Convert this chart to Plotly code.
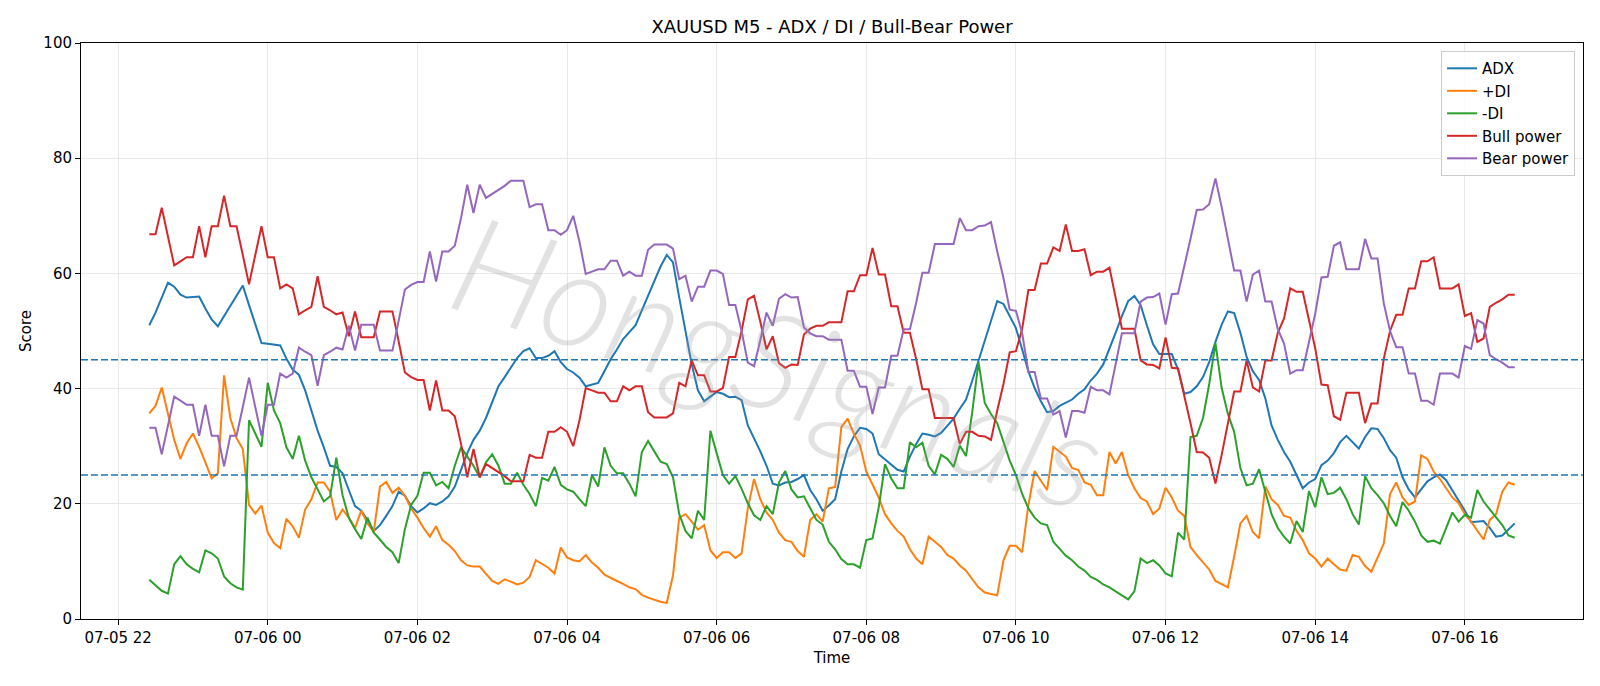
import pandas as pd
import plotly.graph_objects as go

# ---------------- data ----------------
start_time = "2024-07-05 22:25"
n_points = 220
times = pd.date_range(start_time, periods=n_points, freq="5min")

adx = [
    51.0, 53.2, 55.8, 58.4, 57.7, 56.3, 55.8, 55.9, 56.0, 53.9, 52.0, 50.8, 52.6, 54.5, 56.3, 57.9,
    54.5, 51.3, 47.9, 47.8, 47.6, 47.5, 45.2, 43.3, 42.4, 39.7, 36.2, 32.7, 29.8, 26.6, 26.4, 25.3,
    22.4, 19.6, 18.8, 17.2, 15.3, 16.3, 17.9, 19.6, 22.1, 21.4, 19.6, 18.5, 19.2, 20.1, 19.8, 20.4,
    21.3, 23.0, 25.9, 28.8, 31.1, 32.7, 34.9, 37.8, 40.4, 42.0, 43.6, 45.3, 46.5, 47.0, 45.3, 45.3,
    45.7, 46.5, 44.6, 43.4, 42.8, 41.9, 40.4, 40.7, 41.0, 43.0, 45.1, 46.8, 48.6, 49.8, 51.0, 53.6,
    56.1, 58.7, 61.2, 63.2, 61.9, 55.8, 49.7, 44.2, 39.7, 37.8, 38.6, 39.4, 39.1, 38.5, 38.6, 38.0,
    33.6, 31.4, 29.1, 26.6, 23.5, 23.2, 23.7, 23.8, 24.3, 25.0, 22.4, 20.8, 18.8, 19.7, 20.8, 25.6,
    29.5, 31.7, 33.2, 33.0, 32.2, 28.6, 27.7, 26.7, 25.9, 25.6, 28.2, 30.4, 32.2, 32.0, 31.7, 32.3,
    33.6, 34.8, 36.5, 38.1, 41.4, 44.9, 48.4, 52.0, 55.2, 54.7, 52.6, 50.5, 46.8, 43.0, 40.1, 37.8,
    35.9, 36.1, 37.0, 37.5, 38.1, 39.1, 39.9, 41.4, 42.6, 44.2, 46.8, 49.7, 52.6, 55.2, 56.1, 54.5,
    51.0, 47.7, 46.0, 46.0, 46.0, 43.3, 39.1, 39.4, 40.4, 42.0, 44.6, 48.1, 51.1, 53.4, 53.1, 49.7,
    45.5, 43.0, 41.5, 38.3, 33.6, 31.1, 29.0, 27.3, 25.0, 22.7, 23.7, 24.3, 26.7, 27.5, 28.8, 30.7,
    31.8, 30.7, 29.6, 31.6, 33.1, 33.0, 31.4, 29.3, 28.0, 24.6, 22.5, 21.1, 22.5, 23.9, 24.6, 25.1,
    24.1, 22.4, 20.6, 18.8, 16.8, 16.9, 17.0, 15.8, 14.3, 14.5, 15.5, 16.6,
]

plus_di = [
    35.7, 37.0, 40.2, 35.6, 31.1, 27.8, 30.5, 32.2, 29.9, 27.2, 24.4, 25.3, 42.3, 34.9, 31.4, 29.5,
    19.8, 18.3, 19.7, 15.0, 13.2, 12.3, 17.4, 16.1, 14.1, 19.0, 20.8, 23.7, 23.7, 22.1, 17.2, 19.0,
    17.6, 15.8, 18.8, 16.6, 15.1, 23.0, 23.8, 21.9, 22.8, 21.4, 19.2, 17.6, 15.8, 14.3, 16.1, 13.7,
    12.9, 11.8, 10.2, 9.3, 9.1, 9.1, 7.9, 6.6, 6.1, 6.9, 6.5, 6.0, 6.3, 7.3, 10.2, 9.5,
    8.9, 7.9, 12.4, 10.7, 10.2, 10.0, 11.1, 9.8, 8.9, 7.7, 7.1, 6.6, 6.1, 5.5, 5.2, 4.2,
    3.7, 3.3, 3.0, 2.8, 7.6, 17.6, 18.2, 16.9, 15.5, 16.3, 11.9, 10.6, 11.6, 11.6, 10.6, 11.4,
    19.2, 24.3, 20.8, 18.5, 17.2, 15.0, 13.7, 13.4, 11.8, 10.8, 17.2, 18.2, 16.9, 22.7, 22.9, 33.3,
    34.8, 32.2, 30.1, 25.6, 23.3, 21.1, 18.2, 16.6, 15.3, 14.3, 12.1, 10.5, 9.5, 14.3, 13.4, 12.5,
    11.1, 10.5, 9.3, 8.4, 6.9, 5.5, 4.6, 4.4, 4.1, 10.2, 12.7, 12.7, 11.6, 19.8, 25.7, 24.0,
    22.4, 29.9, 29.1, 28.2, 26.2, 25.9, 23.7, 23.3, 21.5, 21.5, 29.0, 27.0, 29.0, 25.0, 22.7, 21.0,
    20.4, 18.2, 19.2, 22.8, 21.1, 18.8, 17.9, 12.5, 11.1, 9.8, 8.6, 6.6, 6.1, 5.5, 10.8, 16.6,
    17.9, 15.1, 14.0, 23.0, 20.8, 19.8, 17.9, 17.6, 15.3, 13.7, 11.4, 10.5, 9.1, 10.5, 9.5, 8.6,
    8.4, 11.1, 10.8, 9.2, 8.2, 10.8, 13.1, 21.7, 23.7, 21.1, 19.8, 20.4, 28.4, 27.8, 25.6, 24.3,
    22.7, 21.1, 20.1, 18.2, 16.9, 15.3, 13.8, 17.2, 18.2, 22.1, 23.7, 23.3,
]

minus_di = [
    6.8, 5.9, 4.9, 4.4, 9.5, 10.9, 9.5, 8.7, 8.1, 11.9, 11.4, 10.5, 7.4, 6.2, 5.5, 5.1,
    34.5, 32.2, 29.9, 41.0, 36.2, 34.0, 29.8, 27.8, 31.8, 27.5, 24.6, 22.5, 20.4, 21.3, 28.0, 21.5,
    17.6, 15.6, 13.9, 17.6, 15.0, 13.8, 12.5, 11.6, 9.7, 15.6, 19.8, 21.4, 25.4, 25.4, 23.2, 23.8,
    22.7, 26.6, 29.8, 28.2, 26.6, 24.6, 27.2, 28.6, 26.6, 23.5, 23.5, 25.4, 23.3, 21.7, 19.6, 24.5,
    24.0, 26.4, 23.3, 22.5, 22.1, 20.8, 19.6, 25.0, 23.0, 29.8, 26.6, 25.3, 25.3, 23.5, 21.3, 29.0,
    30.9, 29.1, 27.3, 26.9, 24.6, 18.2, 15.3, 14.0, 18.8, 17.2, 32.7, 28.8, 25.0, 23.5, 24.8, 22.6,
    20.1, 18.0, 17.2, 19.6, 18.2, 23.7, 25.7, 22.5, 21.1, 21.3, 19.2, 17.2, 16.4, 13.4, 12.1, 10.4,
    9.5, 9.5, 8.9, 13.7, 14.0, 19.4, 26.9, 24.4, 22.7, 22.7, 30.7, 29.8, 30.6, 26.6, 25.1, 28.5,
    27.8, 26.4, 30.1, 28.3, 36.0, 44.6, 37.5, 35.6, 34.0, 30.7, 27.5, 25.0, 21.7, 19.2, 17.6, 16.6,
    16.3, 13.4, 12.1, 11.0, 10.2, 9.1, 8.4, 7.3, 6.8, 6.0, 5.5, 4.8, 4.2, 3.4, 4.8, 10.5,
    9.7, 10.2, 9.3, 7.9, 7.4, 15.0, 13.8, 31.6, 31.8, 34.9, 40.8, 47.9, 40.1, 35.6, 32.5, 26.2,
    23.2, 23.5, 26.0, 21.9, 18.2, 15.8, 14.3, 13.1, 17.0, 15.1, 22.2, 19.4, 24.6, 21.7, 21.9, 22.8,
    20.8, 18.2, 16.4, 24.8, 22.7, 21.5, 20.1, 17.9, 16.1, 20.3, 18.8, 16.9, 14.5, 13.4, 13.6, 13.1,
    15.8, 18.5, 16.9, 18.1, 17.6, 22.4, 20.4, 19.0, 17.7, 16.3, 14.5, 14.1,
]

bull_power = [
    66.8, 66.8, 71.4, 66.4, 61.4, 62.1, 62.8, 62.8, 68.2, 62.8, 68.2, 68.2, 73.5, 68.2, 68.2, 63.2,
    58.1, 63.2, 68.2, 62.8, 62.8, 57.4, 58.1, 57.4, 52.9, 53.6, 54.2, 59.5, 54.2, 53.6, 52.9, 53.2,
    49.1, 53.4, 48.9, 48.9, 48.9, 53.4, 53.4, 53.4, 48.2, 42.8, 42.0, 41.5, 41.5, 36.2, 41.4, 36.2,
    36.2, 35.2, 30.4, 24.6, 29.5, 24.6, 26.9, 26.2, 25.6, 24.8, 23.9, 23.9, 23.9, 28.5, 28.0, 28.0,
    32.5, 32.5, 33.3, 32.5, 30.0, 34.5, 40.1, 39.7, 39.3, 39.3, 37.8, 37.8, 40.4, 39.7, 40.4, 40.4,
    35.9, 35.0, 35.0, 35.0, 35.7, 41.0, 40.4, 44.9, 42.3, 42.3, 39.5, 39.5, 40.1, 45.5, 45.5, 50.0,
    55.5, 56.1, 51.6, 46.8, 49.1, 44.4, 43.6, 44.2, 44.1, 49.4, 50.4, 50.9, 50.9, 51.5, 51.5, 51.5,
    56.9, 56.9, 59.7, 59.7, 64.4, 59.8, 59.8, 54.3, 54.3, 49.7, 49.7, 45.1, 39.9, 39.9, 34.9, 34.9,
    34.9, 34.9, 30.4, 32.5, 32.5, 31.8, 31.7, 31.1, 36.2, 40.8, 46.3, 46.5, 50.4, 57.1, 57.1, 61.7,
    61.7, 64.5, 63.9, 68.5, 63.9, 63.9, 64.2, 59.7, 60.3, 60.3, 61.0, 55.8, 50.4, 50.4, 50.4, 44.9,
    44.2, 44.1, 43.5, 48.9, 43.6, 43.5, 38.9, 34.0, 29.0, 28.9, 28.0, 23.5, 28.5, 34.0, 39.5, 39.5,
    44.9, 40.2, 39.5, 44.9, 44.9, 49.7, 52.2, 57.4, 56.8, 56.8, 52.0, 47.0, 40.7, 40.6, 35.2, 34.6,
    39.3, 39.3, 39.3, 34.0, 37.4, 37.4, 45.2, 50.0, 52.8, 52.8, 57.4, 57.4, 62.1, 62.1, 62.8, 57.4,
    57.4, 57.4, 58.1, 52.6, 53.1, 48.1, 48.7, 54.2, 54.9, 55.5, 56.3, 56.3,
]

bear_power = [
    33.2, 33.2, 28.6, 33.6, 38.6, 37.9, 37.2, 37.2, 31.8, 37.2, 31.8, 31.8, 26.5, 31.8, 31.8, 36.8,
    41.9, 36.8, 31.8, 37.2, 37.2, 42.6, 41.9, 42.6, 47.1, 46.4, 45.8, 40.5, 45.8, 46.4, 47.1, 46.8,
    50.9, 46.6, 51.1, 51.1, 51.1, 46.6, 46.6, 46.6, 51.8, 57.2, 58.0, 58.5, 58.5, 63.8, 58.6, 63.8,
    63.8, 64.8, 69.6, 75.4, 70.5, 75.4, 73.1, 73.8, 74.4, 75.2, 76.1, 76.1, 76.1, 71.5, 72.0, 72.0,
    67.5, 67.5, 66.7, 67.5, 70.0, 65.5, 59.9, 60.3, 60.7, 60.7, 62.2, 62.2, 59.6, 60.3, 59.6, 59.6,
    64.1, 65.0, 65.0, 65.0, 64.3, 59.0, 59.6, 55.1, 57.7, 57.7, 60.5, 60.5, 59.9, 54.5, 54.5, 50.0,
    44.5, 43.9, 48.4, 53.2, 50.9, 55.6, 56.4, 55.8, 55.9, 50.6, 49.6, 49.1, 49.1, 48.5, 48.5, 48.5,
    43.1, 43.1, 40.3, 40.3, 35.6, 40.2, 40.2, 45.7, 45.7, 50.3, 50.3, 54.9, 60.1, 60.1, 65.1, 65.1,
    65.1, 65.1, 69.6, 67.5, 67.5, 68.2, 68.3, 68.9, 63.8, 59.2, 53.7, 53.5, 49.6, 42.9, 42.9, 38.3,
    38.3, 35.5, 36.1, 31.5, 36.1, 36.1, 35.8, 40.3, 39.7, 39.7, 39.0, 44.2, 49.6, 49.6, 49.6, 55.1,
    55.8, 55.9, 56.5, 51.1, 56.4, 56.5, 61.1, 66.0, 71.0, 71.1, 72.0, 76.5, 71.5, 66.0, 60.5, 60.5,
    55.1, 59.8, 60.5, 55.1, 55.1, 50.3, 47.8, 42.6, 43.2, 43.2, 48.0, 53.0, 59.3, 59.4, 64.8, 65.4,
    60.7, 60.7, 60.7, 66.0, 62.6, 62.6, 54.8, 50.0, 47.2, 47.2, 42.6, 42.6, 37.9, 37.9, 37.2, 42.6,
    42.6, 42.6, 41.9, 47.4, 46.9, 51.9, 51.3, 45.8, 45.1, 44.5, 43.7, 43.7,
]

series_names = ["ADX", "+DI", "-DI", "Bull power", "Bear power"]
threshold_levels = [25, 45]
y_ticks = [0, 20, 40, 60, 80, 100]
watermark_text = "HongSignals"

# ---------------- styling ----------------
colors = ["#1f77b4", "#ff7f0e", "#2ca02c", "#d62728", "#9467bd"]
FONT = "DejaVu Sans"

fig = go.Figure()
for name, vals, col in zip(series_names, [adx, plus_di, minus_di, bull_power, bear_power], colors):
    fig.add_trace(go.Scatter(x=times, y=vals, mode="lines", name=name,
                             line=dict(color=col, width=2)))

for lvl in threshold_levels:
    fig.add_hline(y=lvl, line=dict(color="#1f77b4", width=1.4, dash="7px,3px"), layer="above")

span = times[-1] - times[0]
pad = span * 0.05
x_range = [times[0] - pad, times[-1] + pad]

axis_common = dict(
    showline=True, linecolor="black", linewidth=1, mirror=True,
    ticks="outside", ticklen=5, tickcolor="black", tickwidth=1,
    showgrid=True, gridcolor="#e8e8e8", gridwidth=1,
    zeroline=False, tickfont=dict(family=FONT, size=15, color="black"),
)

fig.update_layout(
    width=1600, height=686,
    margin=dict(l=81, r=17, t=43, b=67),
    paper_bgcolor="white", plot_bgcolor="white",
    font=dict(family=FONT, size=15, color="black"),
    title=dict(text="XAUUSD M5 - ADX / DI / Bull-Bear Power", x=0.52, xanchor="center",
               xref="container", y=1 - 26.5 / 686, yref="container", yanchor="middle",
               font=dict(family=FONT, size=18, color="black")),
    xaxis=dict(type="date", range=x_range, dtick=2 * 3600 * 1000, tick0="2024-07-05 22:00",
               tickformat="%m-%d %H",
               title=dict(text="Time", standoff=6, font=dict(family=FONT, size=15)),
               **axis_common),
    yaxis=dict(range=[0, 100], tickvals=y_ticks,
               title=dict(text="Score", standoff=8, font=dict(family=FONT, size=15)),
               **axis_common),
    legend=dict(x=0.9947, y=0.986, xanchor="right", yanchor="top",
                bgcolor="rgba(255,255,255,0.85)", bordercolor="#cccccc", borderwidth=1,
                font=dict(family=FONT, size=15, color="black"), tracegroupgap=0),
    showlegend=True,
)

# watermark (light grey, semi-transparent, italic, tilted)
fig.add_annotation(
    text=watermark_text, xref="paper", yref="paper", x=0.465, y=0.45,
    showarrow=False, textangle=18,
    font=dict(family="Lato", size=136, color="rgba(150,150,150,0.28)", style="italic", weight=300),
)

fig.write_html("out.html")
